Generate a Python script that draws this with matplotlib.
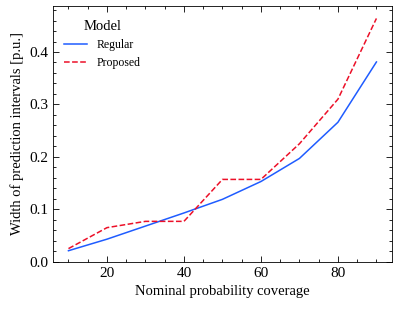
import numpy as np
import matplotlib
matplotlib.use("Agg")
from matplotlib import pyplot as plt
from matplotlib.ticker import AutoMinorLocator

# 字体与刻度样式（类似 SciencePlots 风格）
plt.rcParams["font.family"] = ["Liberation Serif", "DejaVu Serif"]
plt.rcParams["mathtext.fontset"] = "stix"
plt.rcParams["xtick.direction"] = "in"
plt.rcParams["ytick.direction"] = "in"
plt.rcParams["xtick.top"] = True
plt.rcParams["ytick.right"] = True

# 数据
coverage = [10, 20, 30, 40, 50, 60, 70, 80, 90]
regular = [0.021, 0.043, 0.068, 0.093, 0.119, 0.153, 0.197, 0.266, 0.381]
proposed = [0.025, 0.065, 0.077, 0.077, 0.157, 0.157, 0.225, 0.310, 0.464]

fig, ax = plt.subplots(figsize=(3.99, 3.09), dpi=100)
ax.plot(coverage, regular, color="#1f5cff", lw=1.1, label="Regular")
ax.plot(coverage, proposed, color="#ec1028", lw=1.1, ls="--", label="Proposed")

ax.set_xlim(6, 94)
ax.set_ylim(0, 0.488)
ax.set_xticks([20, 40, 60, 80])
ax.xaxis.set_minor_locator(AutoMinorLocator())
ax.yaxis.set_minor_locator(AutoMinorLocator())
ax.tick_params(which="major", length=4.3, width=0.6, labelsize=11)
ax.tick_params(which="minor", length=2.2, width=0.6)
for s in ax.spines.values():
    s.set_linewidth(0.6)

ax.set_xlabel("Nominal probability coverage", fontsize=10.5)
ax.set_ylabel("Width of prediction intervals [p.u.]", fontsize=10.5)
leg = ax.legend(title="Model", frameon=False, fontsize=8.5, title_fontsize=10.5,
                loc="upper left", bbox_to_anchor=(0.0, 0.985))

fig.subplots_adjust(left=0.133, right=0.982, top=0.981, bottom=0.153)
fig.savefig("out.png", dpi=100)
